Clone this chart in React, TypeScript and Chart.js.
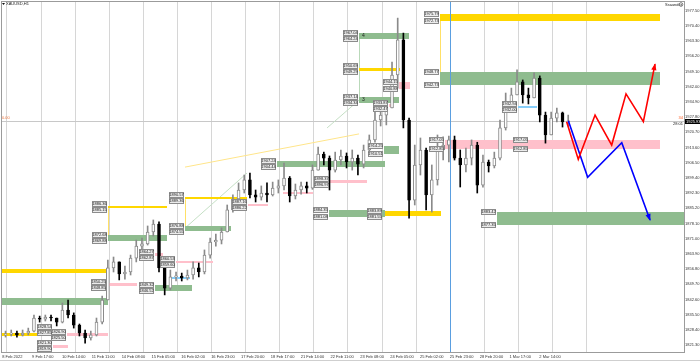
import React, { useEffect, useRef } from "react";
import { Chart, registerables } from "chart.js";

Chart.register(...registerables);

// ---------------- data ----------------
const SYMBOL = "XAUUSD,H1";
const COPYRIGHT = "Ssaunder";
const SPREAD = "34";
const TIMER = "28:01";
const LEFT_VALUE = "0.00";
const BID = 1925.93;

const X_MIN = -1; // hours (H1 bars) from 8 Feb 2022
const X_MAX = 479;
const Y_MIN = 1818.03;
const Y_MAX = 1981.52;

const TIME_LABELS = [
  "8 Feb 2022", "9 Feb 17:00", "10 Feb 14:00", "11 Feb 11:00", "14 Feb 08:00",
  "15 Feb 05:00", "16 Feb 02:00", "16 Feb 23:00", "17 Feb 20:00", "18 Feb 17:00",
  "21 Feb 14:00", "22 Feb 11:00", "23 Feb 08:00", "24 Feb 05:00", "25 Feb 02:00",
  "25 Feb 23:00", "28 Feb 20:00", "1 Mar 17:00", "2 Mar 14:00",
];
const TIME_LABEL_BARS = [
  -0.8, 20.2, 41.2, 62.2, 83.2, 104.2, 125.2, 146.2, 167.2, 188.2,
  209.2, 230.2, 251.2, 272.2, 293.2, 314.2, 335.2, 356.2, 377.2,
];
const GRID_BARS = [
  2.5, 26.5, 50.5, 74.5, 98.5, 122.5, 146.5, 170.5, 194.5, 218.5,
  242.5, 266.5, 290.5, 314.5, 338.5, 362.5, 386.5, 410.5,
];
const PRICE_TICKS = [
  1821.3, 1828.4, 1835.5, 1842.6, 1849.7, 1856.8, 1863.9, 1871.0, 1878.1, 1885.2,
  1892.3, 1899.4, 1906.5, 1913.6, 1920.7, 1927.8, 1934.9, 1942.0, 1949.1, 1956.2,
  1963.3, 1970.4, 1977.5,
];

// candles: one every 4 H1 bars, first centred on bar 1.5
const CANDLE_FIRST_BAR = 1.5;
const CANDLE_STEP_BARS = 4;
const OPEN = [
  1826.0, 1826.4, 1826.9, 1826.0, 1826.9, 1827.8, 1833.9, 1833.4, 1834.4, 1833.9,
  1832.0, 1837.6, 1835.3, 1830.6, 1826.9, 1824.6, 1826.0, 1832.0, 1842.3, 1857.3,
  1860.1, 1854.5, 1855.4, 1861.9, 1867.5, 1868.5, 1874.1, 1877.8, 1857.3, 1847.9,
  1853.1, 1853.5, 1852.6, 1854.0, 1857.3, 1855.4, 1863.3, 1869.4, 1870.3, 1874.1,
  1884.4, 1889.5, 1893.7, 1898.4, 1891.4, 1890.4, 1892.3, 1891.4, 1894.6, 1895.6,
  1899.3, 1890.9, 1893.7, 1895.6, 1894.6, 1903.0, 1910.5, 1908.6, 1903.0, 1907.7,
  1909.6, 1906.8, 1908.6, 1905.8, 1912.4, 1917.1, 1926.4, 1928.7, 1932.0, 1947.4,
  1963.8, 1926.4, 1889.0, 1905.4, 1912.4, 1891.4, 1898.4, 1912.4, 1914.7, 1917.1,
  1908.6, 1905.4, 1908.6, 1914.7, 1896.0, 1906.8, 1904.9, 1908.6, 1922.7, 1933.4,
  1938.1, 1944.2, 1938.1, 1936.7, 1946.0, 1928.7, 1919.4, 1927.3, 1929.7, 1925.5,
];
const HIGH = [
  1827.8, 1828.3, 1827.8, 1828.3, 1829.2, 1835.3, 1834.8, 1835.3, 1835.3, 1833.9,
  1840.9, 1842.3, 1836.3, 1831.1, 1828.3, 1827.8, 1833.9, 1844.2, 1861.0, 1862.4,
  1860.1, 1858.2, 1863.3, 1870.3, 1871.3, 1876.9, 1879.7, 1878.8, 1858.0, 1856.3,
  1855.4, 1854.9, 1856.3, 1860.1, 1859.6, 1865.7, 1871.3, 1873.1, 1876.0, 1886.7,
  1891.4, 1897.0, 1900.7, 1901.6, 1893.7, 1895.6, 1897.0, 1897.4, 1898.4, 1906.3,
  1900.0, 1896.5, 1897.4, 1897.4, 1905.4, 1913.8, 1911.4, 1909.6, 1911.4, 1912.4,
  1911.0, 1912.4, 1910.0, 1914.7, 1919.4, 1930.1, 1931.1, 1934.3, 1953.5, 1974.0,
  1967.0, 1927.3, 1914.7, 1918.0, 1913.3, 1905.4, 1919.4, 1918.5, 1918.9, 1918.9,
  1912.4, 1913.3, 1917.1, 1916.0, 1910.0, 1907.7, 1911.4, 1926.4, 1939.0, 1941.3,
  1949.8, 1945.1, 1941.3, 1948.4, 1947.0, 1930.1, 1930.1, 1932.0, 1930.1, 1928.7,
];
const LOW = [
  1825.0, 1825.5, 1825.0, 1825.5, 1826.0, 1827.4, 1832.0, 1832.5, 1832.5, 1830.2,
  1831.6, 1833.9, 1829.2, 1825.5, 1822.2, 1823.6, 1825.5, 1831.1, 1842.3, 1855.4,
  1851.7, 1852.1, 1854.0, 1860.1, 1865.7, 1868.0, 1872.2, 1855.4, 1844.7, 1847.0,
  1851.2, 1851.2, 1851.7, 1852.1, 1853.1, 1854.5, 1861.9, 1867.5, 1868.5, 1874.1,
  1883.4, 1889.0, 1892.3, 1890.0, 1888.1, 1889.0, 1888.1, 1890.9, 1892.3, 1893.7,
  1888.1, 1889.5, 1891.8, 1892.3, 1894.0, 1903.0, 1905.4, 1893.7, 1902.1, 1905.4,
  1904.0, 1903.0, 1900.7, 1904.0, 1910.0, 1916.1, 1923.6, 1924.1, 1932.0, 1941.3,
  1922.7, 1880.6, 1886.7, 1900.7, 1884.4, 1883.4, 1896.0, 1907.7, 1906.8, 1907.7,
  1895.1, 1902.1, 1905.4, 1892.3, 1895.0, 1902.1, 1904.0, 1907.7, 1921.7, 1931.1,
  1938.1, 1934.3, 1933.9, 1936.7, 1925.5, 1915.6, 1919.4, 1925.5, 1923.1, 1923.6,
];
const CLOSE = [
  1826.4, 1826.9, 1826.0, 1826.9, 1827.8, 1833.9, 1833.4, 1834.4, 1833.9, 1832.0,
  1837.6, 1835.3, 1830.6, 1826.9, 1824.6, 1826.0, 1832.0, 1842.3, 1857.3, 1860.1,
  1854.5, 1855.4, 1861.9, 1867.5, 1868.5, 1874.1, 1877.8, 1857.3, 1847.9, 1853.1,
  1853.5, 1852.6, 1854.0, 1857.3, 1855.4, 1863.3, 1869.4, 1870.3, 1874.1, 1884.4,
  1889.5, 1893.7, 1898.4, 1891.4, 1890.4, 1892.3, 1891.4, 1894.6, 1895.6, 1899.3,
  1890.9, 1893.7, 1895.6, 1894.6, 1903.0, 1910.5, 1908.6, 1903.0, 1907.7, 1909.6,
  1906.8, 1908.6, 1905.8, 1912.4, 1917.1, 1926.4, 1928.7, 1932.0, 1947.4, 1963.8,
  1926.4, 1889.0, 1905.4, 1912.4, 1891.4, 1898.4, 1912.4, 1914.7, 1917.1, 1908.6,
  1905.4, 1908.6, 1914.7, 1896.0, 1906.8, 1904.9, 1908.6, 1922.7, 1933.4, 1938.1,
  1944.2, 1938.1, 1936.7, 1946.0, 1928.7, 1919.4, 1927.3, 1929.7, 1925.5, 1925.9,
];

// zones: [startBar, endBar, topPrice, bottomPrice, hasPriceTags]
const YELLOW_ZONES = [
  [-1, 25.7, 1826.9, 1825.5, 0],
  [-1, 72.9, 1856.8, 1854.92, 0],
  [73.6, 115.1, 1886.36, 1885.15, 1],
  [127.8, 171.4, 1890.57, 1889.36, 1],
  [250.3, 279.1, 1950.69, 1949.29, 1],
  [267.2, 308.0, 1883.89, 1881.55, 1],
  [307.3, 462.1, 1975.79, 1972.73, 1],
];
const GREEN_ZONES = [
  [-1, 73.6, 1843.25, 1839.98, 0],
  [73.6, 115.1, 1872.68, 1869.88, 1],
  [106.7, 132.7, 1849.32, 1846.52, 1],
  [127.8, 160.2, 1876.88, 1874.55, 1],
  [192.6, 268.6, 1907.24, 1904.44, 1],
  [229.2, 268.6, 1884.35, 1881.08, 1],
  [250.3, 285.5, 1967.04, 1964.24, 1],
  [250.3, 278.4, 1937.14, 1934.34, 1],
  [267.9, 278.4, 1914.25, 1910.51, 1],
  [307.3, 462.1, 1948.77, 1942.73, 1],
  [347.4, 479, 1883.42, 1877.35, 1],
];
const PINK_ZONES = [
  [34.9, 45.4, 1821.3, 1819.9, 1],
  [44.7, 73.6, 1826.9, 1825.5, 1],
  [72.9, 94.0, 1850.25, 1848.85, 1],
  [106.7, 112.3, 1864.27, 1862.87, 1],
  [121.5, 147.5, 1860.53, 1859.6, 1],
  [172.1, 186.2, 1887.16, 1886.22, 1],
  [196.8, 217.9, 1892.77, 1891.83, 0],
  [229.9, 255.9, 1898.37, 1896.97, 1],
  [271.4, 274.2, 1933.87, 1932.47, 1],
  [278.4, 286.2, 1944.15, 1940.88, 1],
  [310.8, 369.9, 1917.05, 1912.85, 1],
  [369.9, 462.1, 1917.05, 1912.85, 1],
];
const BLUE_ZONES = [
  [34.9, 43.3, 1828.54, 1827.85, 1],
  [118.7, 131.3, 1853.29, 1852.59, 0],
  [362.2, 375.5, 1932.94, 1932.0, 1],
];
// vertical connectors: [bar, fromPrice, toPrice]
const YELLOW_LINKS = [
  [73.6, 1885.15, 1872.68],
  [127.8, 1889.36, 1876.88],
  [307.3, 1972.73, 1948.77],
];
const GREEN_LINKS = [[250.3, 1964.24, 1937.14]];
// thin trend lines: [bar0, price0, bar1, price1]
const YELLOW_TRENDS = [[127.8, 1904.4, 250.3, 1919.9]];
const GREEN_TRENDS = [
  [127.8, 1875.9, 171.4, 1901.6],
  [227.8, 1922.7, 250.3, 1935.7],
];
const ZONE_NUMBER_BARS = [252.3, 252.3];
const ZONE_NUMBER_PRICES = [1965.64, 1935.74];
const ZONE_NUMBER_TEXT = ["4", "3"];
const MARKER_BAR = 314.0;

// projection paths
const RED_PATH_BARS = [396.4, 404.6, 416.4, 428.1, 438.2, 450.4, 458.6];
const RED_PATH_PRICES = [1925.6, 1908.0, 1928.7, 1914.7, 1938.6, 1925.6, 1952.5];
const BLUE_PATH_BARS = [397.6, 411.2, 435.2, 455.1];
const BLUE_PATH_PRICES = [1926.0, 1899.6, 1915.8, 1879.7];

// ---------------- drawing helpers ----------------
const FONT = '"Liberation Sans", Arial, sans-serif';
const COLORS = {
  yellow: "#ffd700",
  green: "#8fbc8f",
  pink: "#ffc0cb",
  blue: "#87cefa",
};

function drawZones(ctx: any, xs: any, ys: any, zones: number[][], color: string) {
  ctx.fillStyle = color;
  for (const [s, e, top, bot] of zones) {
    const x0 = Math.round(xs.getPixelForValue(s));
    const x1 = Math.round(xs.getPixelForValue(e));
    const y0 = Math.round(ys.getPixelForValue(top));
    const y1 = Math.round(ys.getPixelForValue(bot));
    ctx.fillRect(x0, y0, x1 - x0, Math.max(2, y1 - y0));
  }
}

function tag(ctx: any, xr: number, cy: number, text: string) {
  const w = 15, h = 6;
  const x0 = xr - w;
  const y0 = Math.round(cy - h / 2);
  ctx.fillStyle = "#ececec";
  ctx.fillRect(x0, y0, w, h);
  ctx.strokeStyle = "#8c8c8c";
  ctx.lineWidth = 1;
  ctx.strokeRect(x0 + 0.5, y0 + 0.5, w - 1, h - 1);
  ctx.fillStyle = "#1a1a1a";
  ctx.font = `4px ${FONT}`;
  ctx.textAlign = "center";
  ctx.textBaseline = "middle";
  ctx.fillText(text, x0 + w / 2, y0 + h / 2 + 0.3);
}

function drawTags(ctx: any, xs: any, ys: any, zones: number[][]) {
  for (const [s, , top, bot, tagged] of zones) {
    if (!tagged) continue;
    const xr = Math.round(xs.getPixelForValue(s)) - 1;
    let c1 = ys.getPixelForValue(top);
    let c2 = ys.getPixelForValue(bot);
    if (c2 - c1 < 6) {
      const m = (c1 + c2) / 2;
      c1 = m - 3;
      c2 = m + 3;
    }
    tag(ctx, xr, c1, top.toFixed(2));
    tag(ctx, xr, c2, bot.toFixed(2));
  }
}

function drawArrow(ctx: any, xs: any, ys: any, bars: number[], prices: number[], color: string) {
  const n = bars.length;
  const x1 = xs.getPixelForValue(bars[n - 1]);
  const y1 = ys.getPixelForValue(prices[n - 1]);
  const x0 = xs.getPixelForValue(bars[n - 2]);
  const y0 = ys.getPixelForValue(prices[n - 2]);
  const a = Math.atan2(y1 - y0, x1 - x0);
  const len = 6, half = 2.6;
  ctx.fillStyle = color;
  ctx.beginPath();
  ctx.moveTo(x1 + Math.cos(a) * 1, y1 + Math.sin(a) * 1);
  ctx.lineTo(x1 - Math.cos(a) * len - Math.sin(a) * half, y1 - Math.sin(a) * len + Math.cos(a) * half);
  ctx.lineTo(x1 - Math.cos(a) * len + Math.sin(a) * half, y1 - Math.sin(a) * len - Math.cos(a) * half);
  ctx.closePath();
  ctx.fill();
}

const overlayPlugin = {
  id: "overlay",
  beforeDatasetsDraw(chart: any) {
    const { ctx, chartArea: a, scales } = chart;
    const xs = scales.x, ys = scales.y;
    ctx.save();
    ctx.beginPath();
    ctx.rect(a.left, a.top, a.right - a.left, a.bottom - a.top);
    ctx.clip();
    // bid line
    const by = Math.round(ys.getPixelForValue(BID)) + 0.5;
    ctx.strokeStyle = "#c8c8c8";
    ctx.lineWidth = 1;
    ctx.beginPath();
    ctx.moveTo(a.left, by);
    ctx.lineTo(a.right, by);
    ctx.stroke();
    // trend lines
    const trend = (list: number[][], color: string) => {
      ctx.strokeStyle = color;
      ctx.lineWidth = 1;
      for (const [b0, p0, b1, p1] of list) {
        ctx.beginPath();
        ctx.moveTo(xs.getPixelForValue(b0), ys.getPixelForValue(p0));
        ctx.lineTo(xs.getPixelForValue(b1), ys.getPixelForValue(p1));
        ctx.stroke();
      }
    };
    trend(YELLOW_TRENDS, "#ffe58a");
    trend(GREEN_TRENDS, "#c4dfc4");
    // connectors
    const link = (list: number[][], color: string) => {
      ctx.strokeStyle = color;
      ctx.lineWidth = 1;
      for (const [b, p0, p1] of list) {
        const px = Math.round(xs.getPixelForValue(b)) + 0.5;
        ctx.beginPath();
        ctx.moveTo(px, ys.getPixelForValue(p0));
        ctx.lineTo(px, ys.getPixelForValue(p1));
        ctx.stroke();
      }
    };
    link(YELLOW_LINKS, "#ffe066");
    link(GREEN_LINKS, "#b9d9b9");
    // zones
    drawZones(ctx, xs, ys, YELLOW_ZONES, COLORS.yellow);
    drawZones(ctx, xs, ys, GREEN_ZONES, COLORS.green);
    drawZones(ctx, xs, ys, PINK_ZONES, COLORS.pink);
    drawZones(ctx, xs, ys, BLUE_ZONES, COLORS.blue);
    // vertical marker line
    const mx = Math.round(xs.getPixelForValue(MARKER_BAR)) + 0.5;
    ctx.strokeStyle = "#5a9ee0";
    ctx.beginPath();
    ctx.moveTo(mx, a.top);
    ctx.lineTo(mx, a.bottom);
    ctx.stroke();
    ctx.restore();
  },
  afterDatasetsDraw(chart: any) {
    const { ctx, scales } = chart;
    const xs = scales.x, ys = scales.y;
    ctx.save();
    drawArrow(ctx, xs, ys, RED_PATH_BARS, RED_PATH_PRICES, "#ff0000");
    drawArrow(ctx, xs, ys, BLUE_PATH_BARS, BLUE_PATH_PRICES, "#0000ff");
    drawTags(ctx, xs, ys, YELLOW_ZONES);
    drawTags(ctx, xs, ys, GREEN_ZONES);
    drawTags(ctx, xs, ys, PINK_ZONES);
    drawTags(ctx, xs, ys, BLUE_ZONES);
    ctx.fillStyle = "#1a1a1a";
    ctx.font = `5px ${FONT}`;
    ctx.textAlign = "left";
    ctx.textBaseline = "middle";
    ZONE_NUMBER_TEXT.forEach((t, i) => {
      ctx.fillText(t, xs.getPixelForValue(ZONE_NUMBER_BARS[i]), ys.getPixelForValue(ZONE_NUMBER_PRICES[i]));
    });
    ctx.restore();
  },
  afterDraw(chart: any) {
    const { ctx, chartArea: a, scales } = chart;
    const ys = scales.y;
    ctx.save();
    // frame
    ctx.strokeStyle = "#9b9b9b";
    ctx.lineWidth = 1;
    ctx.strokeRect(1.5, 1.5, a.right - 1, a.bottom - 1);
    ctx.strokeStyle = "#cfcfcf";
    ctx.beginPath();
    ctx.moveTo(0, 360.5);
    ctx.lineTo(700, 360.5);
    ctx.stroke();
    // symbol
    ctx.fillStyle = "#111";
    ctx.beginPath();
    ctx.moveTo(2, 3);
    ctx.lineTo(5, 3);
    ctx.lineTo(3.5, 5);
    ctx.closePath();
    ctx.fill();
    ctx.font = `4px ${FONT}`;
    ctx.textAlign = "left";
    ctx.textBaseline = "middle";
    ctx.fillStyle = "#222";
    ctx.fillText(SYMBOL, 6, 4);
    // copyright
    ctx.fillText(COPYRIGHT, 665, 4.5);
    ctx.strokeStyle = "#777";
    ctx.beginPath();
    ctx.arc(681, 4.5, 1.8, 0, Math.PI * 2);
    ctx.stroke();
    // left value
    const by = ys.getPixelForValue(BID);
    ctx.fillStyle = "#f07840";
    ctx.fillText(LEFT_VALUE, 2, by - 3);
    // spread + timer
    ctx.textAlign = "right";
    ctx.fillStyle = "#ff5a1f";
    ctx.fillText(SPREAD, 683, by - 3);
    ctx.fillStyle = "#222";
    ctx.fillText(TIMER, 683, by + 2.5);
    // bid box
    ctx.fillStyle = "#000";
    ctx.fillRect(685, Math.round(by) - 2, 15, 5);
    ctx.fillStyle = "#fff";
    ctx.textAlign = "left";
    ctx.fillText(BID.toFixed(2), 686, Math.round(by) + 0.5);
    ctx.restore();
  },
};

export default function App() {
  const ref = useRef<HTMLCanvasElement | null>(null);

  useEffect(() => {
    if (!ref.current) return;
    const candleX = OPEN.map((_, i) => CANDLE_FIRST_BAR + i * CANDLE_STEP_BARS);
    const up = (i: number) => CLOSE[i] >= OPEN[i];
    const zeroPad = (s: any) => {
      s.paddingTop = 0;
      s.paddingBottom = 0;
      s.paddingLeft = 0;
      s.paddingRight = 0;
    };

    const chart = new Chart(ref.current, {
      type: "bar",
      data: {
        datasets: [
          {
            type: "line",
            label: "bull scenario",
            data: RED_PATH_BARS.map((b, i) => ({ x: b, y: RED_PATH_PRICES[i] })),
            borderColor: "#ff0000",
            borderWidth: 1.6,
            pointRadius: 0,
            tension: 0,
            order: 0,
          },
          {
            type: "line",
            label: "bear scenario",
            data: BLUE_PATH_BARS.map((b, i) => ({ x: b, y: BLUE_PATH_PRICES[i] })),
            borderColor: "#0000ff",
            borderWidth: 1.6,
            pointRadius: 0,
            tension: 0,
            order: 0,
          },
          {
            type: "bar",
            label: "body",
            data: candleX.map((x, i) => ({ x, y: [OPEN[i], CLOSE[i]] })),
            backgroundColor: (c: any) => (up(c.dataIndex) ? "#ffffff" : "#000000"),
            borderColor: (c: any) => (up(c.dataIndex) ? "#8a8a8a" : "#000000"),
            borderWidth: 1,
            borderSkipped: false,
            grouped: false,
            barPercentage: 1,
            categoryPercentage: 1,
            barThickness: 3,
            maxBarThickness: 3,
            minBarLength: 1,
            order: 1,
          },
          {
            type: "bar",
            label: "wick",
            data: candleX.map((x, i) => ({
              x,
              y: [Math.min(LOW[i], OPEN[i], CLOSE[i]), Math.max(HIGH[i], OPEN[i], CLOSE[i])],
            })),
            backgroundColor: (c: any) => (up(c.dataIndex) ? "#8a8a8a" : "#000000"),
            borderWidth: 0,
            grouped: false,
            barPercentage: 1,
            categoryPercentage: 1,
            barThickness: 1,
            maxBarThickness: 1,
            order: 2,
          },
        ] as any,
      },
      options: {
        animation: false,
        responsive: false,
        devicePixelRatio: 1,
        events: [],
        layout: { padding: { left: 2, top: 2, right: 0, bottom: 0 } },
        plugins: { legend: { display: false }, tooltip: { enabled: false } },
        scales: {
          x: {
            type: "linear",
            min: X_MIN,
            max: X_MAX,
            position: "bottom",
            offset: false,
            grid: { offset: false, color: "#d6d6d6", lineWidth: 1, drawTicks: false },
            border: { display: false },
            ticks: { display: false },
            afterBuildTicks: (s: any) => {
              s.ticks = GRID_BARS.map((v) => ({ value: v }));
            },
            afterFit: (s: any) => {
              s.height = 0;
              zeroPad(s);
            },
          },
          t: {
            type: "linear",
            min: X_MIN,
            max: X_MAX,
            position: "bottom",
            offset: false,
            grid: { display: false, drawTicks: false, offset: false },
            border: { display: false },
            ticks: {
              autoSkip: false,
              maxRotation: 0,
              minRotation: 0,
              align: "start",
              padding: 2,
              color: "#333",
              font: { size: 4, family: FONT },
              callback: (_v: any, i: number) => TIME_LABELS[i],
            },
            afterBuildTicks: (s: any) => {
              s.ticks = TIME_LABEL_BARS.map((v) => ({ value: v }));
            },
            afterFit: (s: any) => {
              s.height = 10;
              zeroPad(s);
            },
          },
          y: {
            type: "linear",
            position: "right",
            min: Y_MIN,
            max: Y_MAX,
            beginAtZero: false,
            grid: { display: false, drawTicks: false },
            border: { display: false },
            ticks: {
              padding: 1,
              color: "#333",
              font: { size: 4, family: FONT },
              callback: (v: any) => Number(v).toFixed(2),
            },
            afterBuildTicks: (s: any) => {
              s.ticks = PRICE_TICKS.map((v) => ({ value: v }));
            },
            afterFit: (s: any) => {
              s.width = 16;
              zeroPad(s);
            },
          },
        } as any,
      },
      plugins: [overlayPlugin],
    });
    return () => chart.destroy();
  }, []);

  return (
    <div
      style={{
        position: "fixed",
        left: 0,
        top: 0,
        width: 700,
        height: 362,
        background: "#ffffff",
      }}
    >
      <canvas ref={ref} width={700} height={362} style={{ display: "block", width: 700, height: 362 }} />
    </div>
  );
}
